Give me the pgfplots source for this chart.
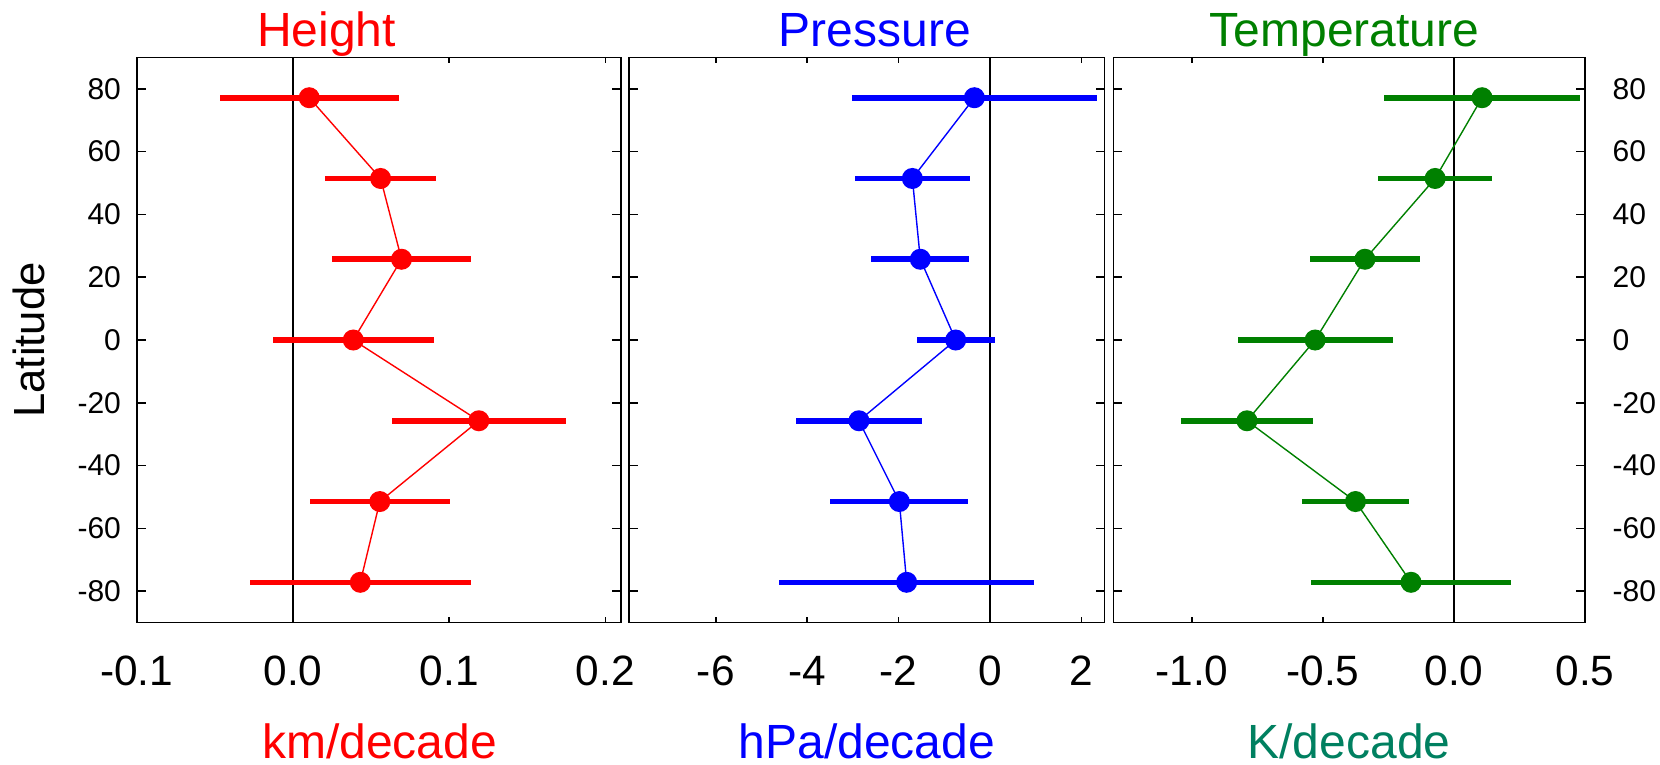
\documentclass[border=0pt]{standalone}
\usepackage{fontspec}
\setmainfont{Liberation Sans}
\usepackage{pgfplots}
\pgfplotsset{compat=1.18}
\usepackage{pgfplotstable}

\definecolor{hred}{RGB}{255,0,0}
\definecolor{pblue}{RGB}{0,0,255}
\definecolor{tgreen}{RGB}{0,128,0}
\definecolor{kteal}{RGB}{0,128,96}

% latitude, trend, half width of the bar
\pgfplotstableread{
lat x e
77.14 0.0104 0.0573
51.43 0.0561 0.0355
25.71 0.0695 0.0446
0 0.0386 0.0515
-25.71 0.1190 0.0555
-51.43 0.0556 0.0446
-77.14 0.0431 0.0708
}\heightdata

\pgfplotstableread{
lat x e
77.14 -0.343 2.675
51.43 -1.700 1.250
25.71 -1.526 1.073
0 -0.752 0.857
-25.71 -2.869 1.372
-51.43 -1.985 1.507
-77.14 -1.825 2.792
}\pressdata

\pgfplotstableread{
lat x e
77.14 0.107 0.373
51.43 -0.072 0.218
25.71 -0.340 0.210
0 -0.530 0.296
-25.71 -0.790 0.252
-51.43 -0.376 0.203
-77.14 -0.164 0.383
}\tempdata

\pgfplotsset{
  panel/.style={
    anchor=south west, scale only axis, height=141.35pt,
    ymin=-90, ymax=90, ytick={-80,-60,...,80},
    yticklabels={-80,-60,-40,-20,0,20,40,60,80},
    tick align=inside, xtick pos=both, ytick pos=both, xticklabel pos=lower,
    major tick length=2.2pt,
    x tick style={/pgfplots/major tick length=1.5pt},
    axis line style={line width=0.4pt},
    tick style={black, line width=0.4pt},
    xticklabel style={font=\fontsize{10.6}{12}\selectfont, anchor=base, yshift=-15.8pt, inner sep=0pt},
    yticklabel style={font=\fontsize{7.5}{9}\selectfont, inner sep=0pt},
  },
  trend/.style={#1, line width=0.35pt, mark=*, mark size=2.45pt,
    mark options={solid, fill=#1, draw=#1},
    error bars/.cd, x dir=both, x explicit, error mark=none,
    error bar style={#1, line width=1.4pt}},
}

\begin{document}
\begin{tikzpicture}
\useasboundingbox (0,0) rectangle (415pt,191pt);

\begin{axis}[panel, at={(34.18pt,35.33pt)}, width=121.08pt,
  xmin=-0.1, xmax=0.21, xtick={-0.1,0,0.1,0.2}, xticklabels={-0.1,0.0,0.1,0.2},
  yticklabel pos=left, yticklabel style={anchor=east, xshift=-3.75pt}]
\addplot[black, line width=0.33pt, forget plot] coordinates {(0,-90) (0,90)};
\addplot[trend=hred] table[x=x, y=lat, x error=e] {\heightdata};
\end{axis}

\begin{axis}[panel, at={(157.25pt,35.33pt)}, width=118.83pt,
  xmin=-7.9, xmax=2.5, xtick={-6,-4,-2,0,2}, xticklabels={-6,-4,-2,0,2},
  yticklabels={}]
\addplot[black, line width=0.33pt, forget plot] coordinates {(0,-90) (0,90)};
\addplot[trend=pblue] table[x=x, y=lat, x error=e] {\pressdata};
\end{axis}

\begin{axis}[panel, at={(278.33pt,35.33pt)}, width=117.93pt,
  xmin=-1.3, xmax=0.5, xtick={-1,-0.5,0,0.5}, xticklabels={-1.0,-0.5,0.0,0.5},
  yticklabel pos=right, yticklabel style={anchor=west, xshift=6.7pt}]
\addplot[black, line width=0.33pt, forget plot] coordinates {(0,-90) (0,90)};
\addplot[trend=tgreen] table[x=x, y=lat, x error=e] {\tempdata};
\end{axis}

\node[font=\fontsize{12}{14}\selectfont, text=hred, anchor=base] at (81.6pt,179.4pt) {Height};
\node[font=\fontsize{12}{14}\selectfont, text=pblue, anchor=base] at (218.75pt,179.4pt) {Pressure};
\node[font=\fontsize{12}{14}\selectfont, text=tgreen, anchor=base] at (336.15pt,179.4pt) {Temperature};

\node[font=\fontsize{12}{14}\selectfont, text=hred, anchor=base] at (94.9pt,1.5pt) {km/decade};
\node[font=\fontsize{12}{14}\selectfont, text=pblue, anchor=base] at (216.7pt,1.5pt) {hPa/decade};
\node[font=\fontsize{12}{14}\selectfont, text=kteal, anchor=base] at (337.25pt,1.5pt) {K/decade};

\node[font=\fontsize{10.9}{12}\selectfont, rotate=90, anchor=base] at (11pt,106pt) {Latitude};
\end{tikzpicture}
\end{document}
